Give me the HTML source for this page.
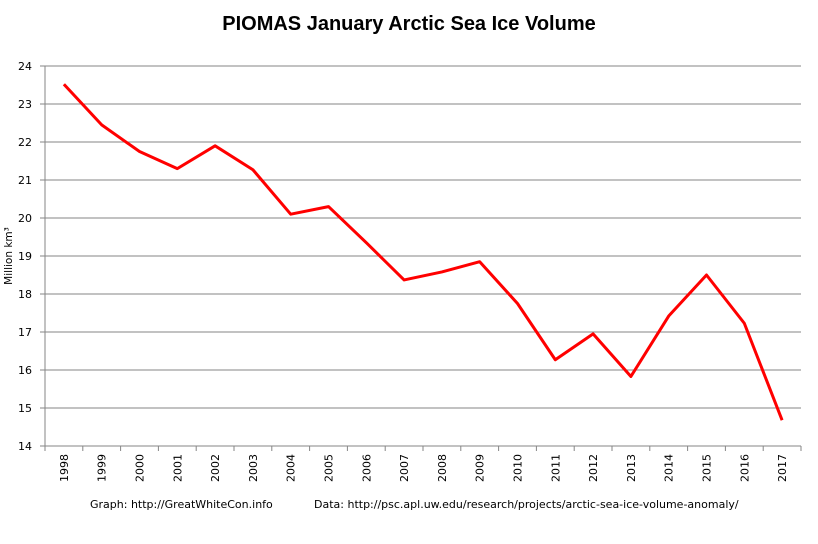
<!DOCTYPE html>
<html><head><meta charset="utf-8"><style>
body{margin:0;background:#fff;font-family:"DejaVu Sans","Liberation Sans",sans-serif}
svg text{font-family:"DejaVu Sans","Liberation Sans",sans-serif;fill:#000}
</style></head><body>
<svg id="c" width="818" height="540">
<text x="409" y="30" text-anchor="middle" font-size="20" font-weight="bold" style="font-family:'Liberation Sans',sans-serif">PIOMAS January Arctic Sea Ice Volume</text>
<text transform="translate(12,256) rotate(-90)" text-anchor="middle" font-size="10.5">Million km³</text>
<g id="grid"></g><g id="xaxis"></g><g id="series"></g>
<text x="90" y="508" font-size="11">Graph: http://GreatWhiteCon.info</text>
<text x="314" y="508" font-size="11">Data:  http://psc.apl.uw.edu/research/projects/arctic-sea-ice-volume-anomaly/</text>
</svg>
<script>
const years=["1998","1999","2000","2001","2002","2003","2004","2005","2006","2007","2008","2009","2010","2011","2012","2013","2014","2015","2016","2017"];
const volumes=[23.52,22.45,21.75,21.3,21.9,21.27,20.1,20.3,19.35,18.37,18.58,18.85,17.75,16.27,16.95,15.83,17.42,18.5,17.23,14.68];
const yTicks=[14,15,16,17,18,19,20,21,22,23,24];
const NS="http://www.w3.org/2000/svg";
const L=45,R=801,T=66,B=446,yMin=14,yMax=24;
const bw=(R-L)/years.length;
const x=i=>L+bw*(i+0.5);
const y=v=>B-(v-yMin)/(yMax-yMin)*(B-T);
function mk(t,a,p){const e=document.createElementNS(NS,t);for(const k in a)e.setAttribute(k,a[k]);p.appendChild(e);return e;}
const g=document.getElementById('grid'),xa=document.getElementById('xaxis'),s=document.getElementById('series');
yTicks.forEach(v=>{
 const ln=mk('line',{x1:L-5,x2:R,y1:y(v),y2:y(v),stroke:'#868686','stroke-width':1},g);
 
 
 const t=mk('text',{x:32,y:y(v)+4,'text-anchor':'end','font-size':11},g);t.textContent=v;
 
 
});
const ax=mk('line',{x1:L,x2:L,y1:T,y2:B,stroke:'#868686'},g);


years.forEach((yr,i)=>{
 mk('line',{x1:L+bw*i,x2:L+bw*i,y1:B,y2:B+5,stroke:'#868686'},xa);
 const t=mk('text',{transform:`translate(${x(i)+4},${B+22}) rotate(-90)`,'text-anchor':'middle','font-size':11},xa);t.textContent=yr;
 
 
});
mk('line',{x1:R,x2:R,y1:B,y2:B+5,stroke:'#868686'},xa);
const p=mk('polyline',{points:volumes.map((v,i)=>x(i)+','+y(v)).join(' '),fill:'none',stroke:'#f00','stroke-width':3,'stroke-linejoin':'round'},s);


</script>
</body></html>
